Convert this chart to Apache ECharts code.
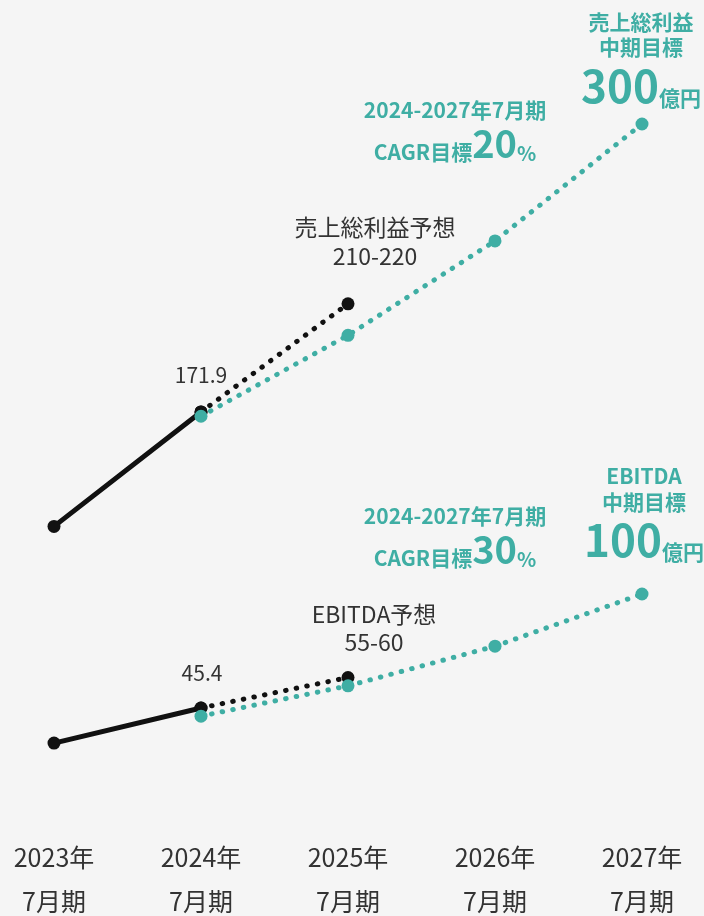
<!DOCTYPE html>
<html lang="ja">
<head>
<meta charset="utf-8">
<title>売上総利益・EBITDA 中期目標</title>
<script src="https://cdn.jsdelivr.net/npm/echarts@6/dist/echarts.min.js"></script>
<style>
  html, body { margin: 0; padding: 0; background: #f5f5f5; }
  #chart { width: 704px; height: 916px; }
</style>
</head>
<body>
<div id="chart"></div>
<script>
// Fiscal years (July year-end)
const categories = ['2023年\n7月期', '2024年\n7月期', '2025年\n7月期', '2026年\n7月期', '2027年\n7月期'];

// Gross profit (億円): actual, forecast, mid-term target path (CAGR 20%)
const grossActual   = [121, 171.9, null, null, null];
const grossForecast = [null, 171.9, 220, null, null];
const grossTarget   = [null, 170, 206, 248, 300];

// EBITDA (億円): actual, forecast, mid-term target path (CAGR 30%)
const ebitdaActual   = [28.6, 45.4, null, null, null];
const ebitdaForecast = [null, 45.4, 60, null, null];
const ebitdaTarget   = [null, 41.5, 56, 75, 100];

// Annotation texts
const grossActualLabel   = '171.9';
const grossForecastLines = ['売上総利益予想', '210-220'];
const grossCagrLines     = ['2024-2027年7月期', 'CAGR目標', '20', '%'];
const grossGoalLines     = ['売上総利益', '中期目標', '300', '億円'];
const ebitdaActualLabel   = '45.4';
const ebitdaForecastLines = ['EBITDA予想', '55-60'];
const ebitdaCagrLines     = ['2024-2027年7月期', 'CAGR目標', '30', '%'];
const ebitdaGoalLines     = ['EBITDA', '中期目標', '100', '億円'];

const FONT = '"Noto Sans CJK JP", "Noto Sans", sans-serif';
const TEAL = '#3faea4';
const INK = '#111111';
const TEXT = '#333333';

const dotted = [0.5, 10.3];

function plainLabel(text, offset, lh) {
  return {
    show: true, position: 'inside', offset: offset,
    formatter: text, align: 'center',
    fontFamily: FONT, fontSize: lh ? 23 : 21, lineHeight: lh || 24, color: TEXT
  };
}

function cagrLabel(lines, offset) {
  const base = { fontFamily: FONT, fontWeight: 'bold', color: TEAL, align: 'center' };
  return {
    show: true, position: 'inside', offset: offset, align: 'center',
    formatter: '{t|' + lines[0] + '}\n{s|' + lines[1] + '}{big|' + lines[2] + '}{pct|' + lines[3] + '}',
    rich: {
      t:   Object.assign({}, base, { fontSize: 21, lineHeight: 30, verticalAlign: 'middle' }),
      s:   Object.assign({}, base, { fontSize: 21, lineHeight: 25.5, verticalAlign: 'bottom' }),
      big: Object.assign({}, base, { fontSize: 38, lineHeight: 38, verticalAlign: 'bottom' }),
      pct: Object.assign({}, base, { fontSize: 20, lineHeight: 24.8, verticalAlign: 'bottom' })
    }
  };
}

function goalLabel(lines, offset, lh, bigLh, unitLh) {
  const base = { fontFamily: FONT, fontWeight: 'bold', color: TEAL, align: 'center' };
  return {
    show: true, position: 'inside', offset: offset, align: 'center',
    formatter: '{t|' + lines[0] + '}\n{t|' + lines[1] + '}\n{big|' + lines[2] + '}{u|' + lines[3] + '}',
    rich: {
      t:   Object.assign({}, base, { fontSize: 21, lineHeight: lh, verticalAlign: 'middle' }),
      big: Object.assign({}, base, { fontSize: 44, lineHeight: bigLh, verticalAlign: 'bottom' }),
      u:   Object.assign({}, base, { fontSize: 21, lineHeight: unitLh, verticalAlign: 'bottom' })
    }
  };
}

function withLabels(values, labels) {
  return values.map(function (v, i) {
    return labels[i] && v !== null ? { value: v, label: labels[i] } : v;
  });
}

function lineSeries(name, yIndex, data, color, solid) {
  return {
    name: name, type: 'line', yAxisIndex: yIndex, data: data,
    symbol: 'circle', symbolSize: 13, showSymbol: true,
    connectNulls: false, silent: true,
    itemStyle: { color: color },
    lineStyle: { color: color, width: 5, type: solid ? 'solid' : dotted, cap: 'round' },
    label: { show: false },
    emphasis: { disabled: true }
  };
}

const chart = echarts.init(document.getElementById('chart'), null, { renderer: 'canvas' });

chart.setOption({
  backgroundColor: '#f5f5f5',
  animation: false,
  grid: {
    left: 54, right: 62, top: 30, bottom: 116,
    containLabel: false, outerBoundsMode: 'none'
  },
  xAxis: {
    type: 'category', data: categories, boundaryGap: false,
    axisLine: { show: false }, axisTick: { show: false }, splitLine: { show: false },
    axisLabel: {
      margin: 35, fontFamily: FONT, fontSize: 25, lineHeight: 44, color: TEXT, interval: 0
    }
  },
  yAxis: [
    { type: 'value', min: -0.7, max: 341.8, show: false, splitLine: { show: false } },
    { type: 'value', min: 1.34, max: 370.1, show: false, splitLine: { show: false } }
  ],
  series: [
    lineSeries('売上総利益実績', 0,
      withLabels(grossActual, [null, plainLabel(grossActualLabel, [0, -37])]), INK, true),
    lineSeries('売上総利益予想', 0,
      withLabels(grossForecast, [null, null, plainLabel(grossForecastLines.join('\n'), [27, -62.3], 29)]), INK, false),
    lineSeries('売上総利益目標', 0,
      withLabels(grossTarget, [null, null, null,
        cagrLabel(grossCagrLines, [-40, -111.9]),
        goalLabel(grossGoalLines, [-1, -65.2], 25, 48.7, 31.8)]), TEAL, false),
    lineSeries('EBITDA実績', 1,
      withLabels(ebitdaActual, [null, plainLabel(ebitdaActualLabel, [1, -35])]), INK, true),
    lineSeries('EBITDA予想', 1,
      withLabels(ebitdaForecast, [null, null, plainLabel(ebitdaForecastLines.join('\n'), [26, -49.5], 28)]), INK, false),
    lineSeries('EBITDA目標', 1,
      withLabels(ebitdaTarget, [null, null, null,
        cagrLabel(ebitdaCagrLines, [-40, -111.2]),
        goalLabel(ebitdaGoalLines, [2, -81.2], 26, 47.7, 30.8)]), TEAL, false)
  ]
});
</script>
</body>
</html>
